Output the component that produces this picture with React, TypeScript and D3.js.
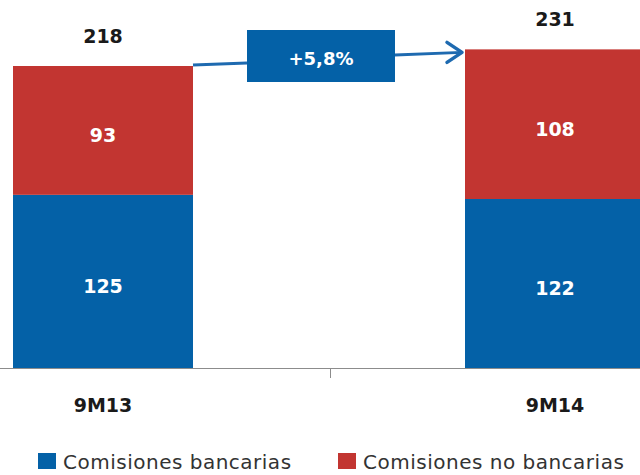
import React from "react";
import * as d3 from "d3";

const categories = ["9M13", "9M14"];
const bancarias = [125, 122];
const noBancarias = [93, 108];
const totals = [218, 231];
const growthLabel = "+5,8%";
const seriesNames = ["Comisiones bancarias", "Comisiones no bancarias"];

const BLUE = "#0461A7";
const RED = "#C23531";
const ARROW = "#1E6AB0";
const FONT = "'DejaVu Sans', Verdana, sans-serif";

export default function App() {
  const W = 640;
  const H = 475;
  const barW = 180;
  const x = d3.scalePoint<string>().domain(categories).range([103, 555]);
  const y = d3.scaleLinear().domain([0, 218]).range([368, 66]);

  const rows = categories.map((c, i) => ({
    cat: c,
    bancarias: bancarias[i],
    noBancarias: noBancarias[i],
  }));
  const stack = d3.stack<any>().keys(["bancarias", "noBancarias"])(rows);
  const colors = [BLUE, RED];

  const x0 = x(categories[0])!;
  const x1 = x(categories[1])!;
  const mid = (x0 + x1) / 2;

  // arrow geometry derived from bar tops
  const leftTop = y(stack[1][0][1]);
  const rightTop = y(stack[1][1][1]);
  const boxL = 247;
  const boxR = 395;
  const boxT = 30;
  const boxB = 82;
  const tipX = x1 - barW / 2 - 3;
  const tipY = rightTop + 3;
  const line = d3.line();

  return (
    <svg
      width={W}
      height={H}
      style={{ position: "absolute", left: 0, top: 0, background: "#fff" }}
      fontFamily={FONT}
    >
      {stack.map((s, si) =>
        s.map((d, i) => {
          const cx = x(categories[i])!;
          const yt = y(d[1]);
          const yb = y(d[0]);
          return (
            <g key={`${si}-${i}`}>
              <rect x={cx - barW / 2} y={yt} width={barW} height={yb - yt} fill={colors[si]} />
              <text
                x={cx}
                y={(yt + yb) / 2 + 12}
                textAnchor="middle"
                fill="#fff"
                fontWeight="bold"
                fontSize={19}
              >
                {d[1] - d[0]}
              </text>
            </g>
          );
        })
      )}
      {totals.map((t, i) => (
        <text
          key={`t${i}`}
          x={x(categories[i])!}
          y={y(stack[1][i][1]) - 23}
          textAnchor="middle"
          fill="#1a1a1a"
          fontWeight="bold"
          fontSize={19}
        >
          {t}
        </text>
      ))}

      {/* axis */}
      <line x1={0} x2={W} y1={368.5} y2={368.5} stroke="#8c8c8c" strokeWidth={1} />
      <line x1={mid + 1.5} x2={mid + 1.5} y1={368} y2={378} stroke="#8c8c8c" strokeWidth={1} />
      {categories.map((c) => (
        <text
          key={c}
          x={x(c)!}
          y={412}
          textAnchor="middle"
          fill="#1a1a1a"
          fontWeight="bold"
          fontSize={19}
        >
          {c}
        </text>
      ))}

      {/* growth arrow */}
      <path
        d={line([[x0 + barW / 2, leftTop - 1], [boxL, boxT + 33]])!}
        stroke={ARROW}
        strokeWidth={3}
        fill="none"
      />
      <path
        d={line([[boxR, boxT + 25], [tipX, tipY]])!}
        stroke={ARROW}
        strokeWidth={3}
        fill="none"
      />
      <path
        d={line([[tipX - 15, tipY - 10], [tipX, tipY], [tipX - 15, tipY + 10]])!}
        stroke={ARROW}
        strokeWidth={3.5}
        fill="none"
        strokeLinecap="round"
        strokeLinejoin="round"
      />
      <rect x={boxL} y={boxT} width={boxR - boxL} height={boxB - boxT} fill={BLUE} />
      <text
        x={(boxL + boxR) / 2}
        y={65}
        textAnchor="middle"
        fill="#fff"
        fontWeight="bold"
        fontSize={18}
      >
        {growthLabel}
      </text>

      {/* legend */}
      {seriesNames.map((n, i) => {
        const lx = i === 0 ? 38 : 338;
        return (
          <g key={n}>
            <rect x={lx} y={453} width={18} height={16} fill={colors[i]} />
            <text
              x={lx + 25}
              y={469}
              fill="#333"
              fontSize={20}
              letterSpacing={0.5}
            >
              {n}
            </text>
          </g>
        );
      })}
    </svg>
  );
}
